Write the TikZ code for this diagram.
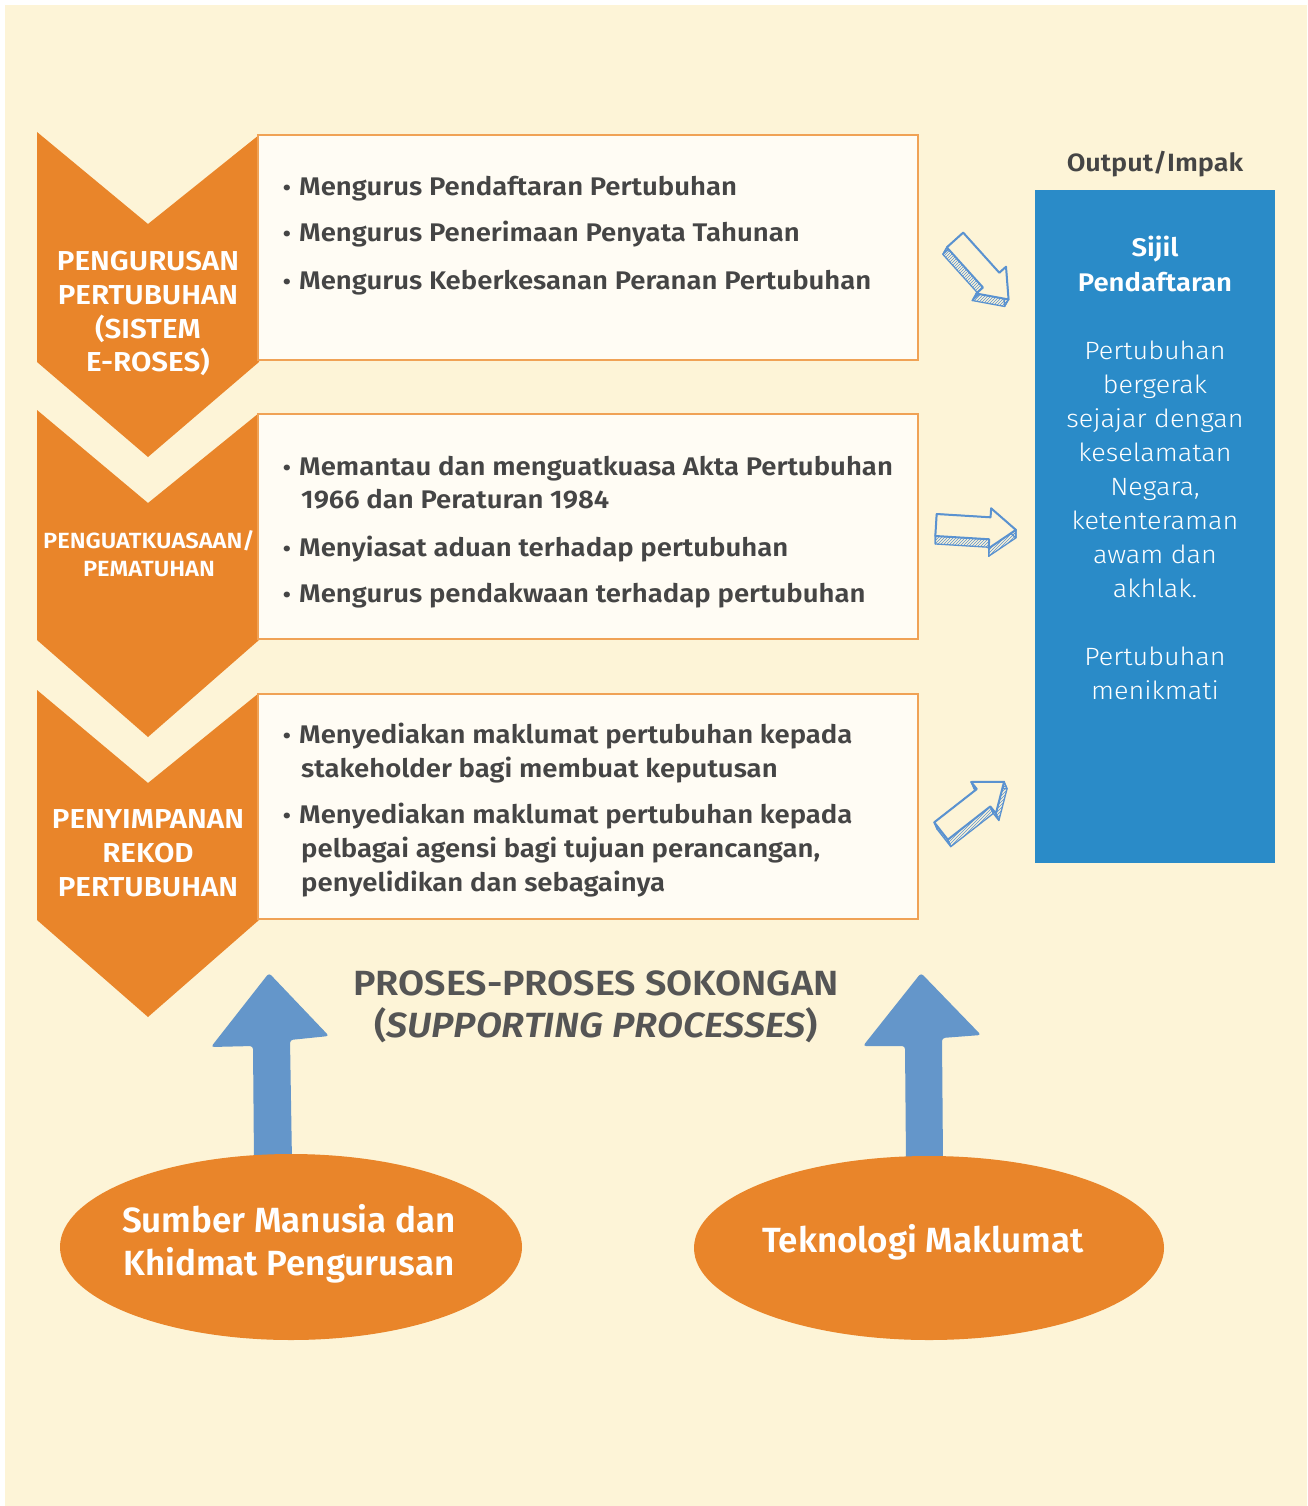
\documentclass[tikz,border=0pt]{standalone}
\usepackage{fontspec}
\setmainfont{Fira Sans}[FakeStretch=1.08, BoldFont={Fira Sans SemiBold}, BoldItalicFont={Fira Sans SemiBold Italic}]
\newfontfamily\lightfont{Fira Sans Light}[FakeStretch=1.08]
\newfontfamily\ovalfont{Fira Sans SemiBold}
\usetikzlibrary{shapes.geometric,patterns}
\definecolor{cream}{HTML}{FDF4D7}
\definecolor{orangeC}{HTML}{E9852A}
\definecolor{boxfill}{HTML}{FFFCF4}
\definecolor{boxline}{HTML}{F0A255}
\definecolor{outblue}{HTML}{2A8BC8}
\definecolor{darktext}{HTML}{454545}
\definecolor{titlegray}{HTML}{555555}
\definecolor{smallblue}{HTML}{5A92D0}
\definecolor{bigblue}{HTML}{6496CA}
\newcommand{\flatarrow}[5]{%
  \begin{scope}[shift={#2}, rotate=#3]
    \path (0,-11) coordinate (#1f1) (54,-11) coordinate (#1f2) (54,-20) coordinate (#1f3)
          (80,0) coordinate (#1f4) (54,20) coordinate (#1f5) (54,11) coordinate (#1f6) (0,11) coordinate (#1f7);
  \end{scope}
  \begin{scope}[shift={(#4,#5)}]
  \begin{scope}[shift={#2}, rotate=#3]
    \path (0,-11) coordinate (#1b1) (54,-11) coordinate (#1b2) (54,-20) coordinate (#1b3)
          (80,0) coordinate (#1b4) (54,20) coordinate (#1b5) (54,11) coordinate (#1b6) (0,11) coordinate (#1b7);
  \end{scope}
  \end{scope}
  \foreach \i/\j in {1/2,2/3,3/4,4/5,5/6,6/7,7/1}
    \filldraw[hatchface] (#1f\i) -- (#1f\j) -- (#1b\j) -- (#1b\i) -- cycle;
  \filldraw[frontface] (#1f1) -- (#1f2) -- (#1f3) -- (#1f4) -- (#1f5) -- (#1f6) -- (#1f7) -- cycle;
}
\begin{document}
\begin{tikzpicture}[x=1pt,y=-1pt,
  chevron/.style={fill=orangeC},
  procbox/.style={draw=boxline, line width=2pt, fill=boxfill, minimum width=660, minimum height=225, inner sep=0},
  item/.style={anchor=base west, inner sep=0, text=darktext, font=\bfseries\fontsize{25.5}{34}\selectfont},
  bul/.style={anchor=base, inner sep=0, text=darktext, font=\bfseries\fontsize{22}{34}\selectfont},
  chevlabel/.style={anchor=base, inner sep=0, text=white, font=\bfseries\fontsize{27.4}{34}\selectfont},
  chevsmall/.style={anchor=base, inner sep=0, text=white, font=\bfseries\fontsize{22}{27}\selectfont},
  outtext/.style={anchor=base, inner sep=0, text=white, font=\lightfont\fontsize{25}{34}\selectfont},
  outbold/.style={anchor=base, inner sep=0, text=white, font=\bfseries\fontsize{25.5}{34}\selectfont},
  hatchface/.style={draw=smallblue, line width=1.3pt, pattern=north east lines, pattern color=smallblue, line join=round},
  frontface/.style={draw=smallblue, line width=2pt, fill=cream, line join=round},
  oval/.style={ellipse, fill=orangeC, inner sep=0},
  ovaltext/.style={inner sep=0, text=white, align=center, font=\ovalfont\fontsize{35}{43}\selectfont},
  bigarrow/.style={fill=bigblue, rounded corners=3pt}]
\useasboundingbox (0,0) rectangle (1307,1506);
\fill[white] (0,0) rectangle (1307,1506);
\fill[cream] (5,5) rectangle (1307,1506);

% chevrons
\fill[chevron] (37,132) -- (148,224) -- (259,135) -- (259,362) -- (148,457) -- (37,362) -- cycle;
\fill[chevron] (37,410) -- (148,503) -- (259,413) -- (259,640) -- (148,737) -- (37,640) -- cycle;
\fill[chevron] (37,690) -- (148,783) -- (259,693) -- (259,920) -- (148,1017) -- (37,920) -- cycle;

% process boxes
\node[procbox] (b1) at (588,247.5) {};
\node[procbox] (b2) at (588,526.5) {};
\node[procbox] (b3) at (588,806.5) {};

% chevron labels
\node[chevlabel] (c1a) at (148,270) {PENGURUSAN};
\node[chevlabel] (c1b) at (148,304) {PERTUBUHAN};
\node[chevlabel] (c1c) at (148,338) {(SISTEM};
\node[chevlabel] (c1d) at (148,371) {E-ROSES)};
\node[chevsmall] (c2a) at (149,548) {PENGUATKUASAAN/};
\node[chevsmall] (c2b) at (149,576) {PEMATUHAN};
\node[chevlabel] (c3a) at (148,828) {PENYIMPANAN};
\node[chevlabel] (c3b) at (148,862) {REKOD};
\node[chevlabel] (c3c) at (148,896) {PERTUBUHAN};

% box 1 items
\node[bul] (d11) at (287,196) {•};
\node[item] (i11) at (299,196) {Mengurus Pendaftaran Pertubuhan};
\node[bul] (d12) at (287,242) {•};
\node[item] (i12) at (299,242) {Mengurus Penerimaan Penyata Tahunan};
\node[bul] (d13) at (287,289) {•};
\node[item] (i13) at (299,289) {Mengurus Keberkesanan Peranan Pertubuhan};
% box 2 items
\node[bul] (d21) at (287,475) {•};
\node[item] (i21) at (299,475) {Memantau dan menguatkuasa Akta Pertubuhan};
\node[item] (i21b) at (301,508) {1966 dan Peraturan 1984};
\node[bul] (d22) at (287,556) {•};
\node[item] (i22) at (299,556) {Menyiasat aduan terhadap pertubuhan};
\node[bul] (d23) at (287,602) {•};
\node[item] (i23) at (299,602) {Mengurus pendakwaan terhadap pertubuhan};
% box 3 items
\node[bul] (d31) at (287,743) {•};
\node[item] (i31) at (299,743) {Menyediakan maklumat pertubuhan kepada};
\node[item] (i31b) at (301,777) {stakeholder bagi membuat keputusan};
\node[bul] (d32) at (287,823) {•};
\node[item] (i32) at (299,823) {Menyediakan maklumat pertubuhan kepada};
\node[item] (i32b) at (301,857) {pelbagai agensi bagi tujuan perancangan,};
\node[item] (i32c) at (301,891) {penyelidikan dan sebagainya};

% output box
\node[anchor=base, inner sep=0, text=darktext, font=\bfseries\fontsize{25}{34}\selectfont] (outt) at (1155,172) {Output/Impak};
\node[fill=outblue, minimum width=240, minimum height=673, inner sep=0] (out) at (1155,526.5) {};
\node[outbold] (o1) at (1155,257) {Sijil};
\node[outbold] (o2) at (1155,291) {Pendaftaran};
\node[outtext] (o3) at (1155,359) {Pertubuhan};
\node[outtext] (o4) at (1155,393) {bergerak};
\node[outtext] (o5) at (1155,427) {sejajar dengan};
\node[outtext] (o6) at (1155,461) {keselamatan};
\node[outtext] (o7) at (1155,495) {Negara,};
\node[outtext] (o8) at (1155,529) {ketenteraman};
\node[outtext] (o9) at (1155,563) {awam dan};
\node[outtext] (o10) at (1155,597) {akhlak.};
\node[outtext] (o11) at (1155,665) {Pertubuhan};
\node[outtext] (o12) at (1155,699) {menikmati};

% small 3D arrows
\flatarrow{a1}{(955,240)}{-48}{-4}{7}
\flatarrow{a2}{(936,525)}{-3.5}{0}{8}
\flatarrow{a3}{(941,831)}{38}{3}{7}

% title
\node[anchor=base, inner sep=0, text=titlegray, font=\bfseries\fontsize{35}{40}\selectfont] (t1) at (596,995) {PROSES-PROSES SOKONGAN};
\node[anchor=base, inner sep=0, text=titlegray, font=\bfseries\fontsize{35}{40}\selectfont] (t2) at (596,1037) {(\textit{SUPPORTING PROCESSES})};

% big arrows
\fill[bigarrow] (254,1162) -- (253,1046) -- (211,1047) -- (269,973) -- (329,1036) -- (290,1040) -- (292,1162) -- cycle;
\fill[bigarrow] (906,1162) -- (905,1046) -- (863,1046) -- (921,973) -- (981,1035) -- (942,1038) -- (943,1162) -- cycle;

% ovals
\node[oval, minimum width=462, minimum height=186] (e1) at (291,1247) {};
\node[ovaltext] (e1t) at (289,1244) {Sumber Manusia dan\\Khidmat Pengurusan};
\node[oval, minimum width=470, minimum height=184] (e2) at (929,1248) {};
\node[ovaltext] (e2t) at (923,1242) {Teknologi Maklumat};
\end{tikzpicture}
\end{document}
